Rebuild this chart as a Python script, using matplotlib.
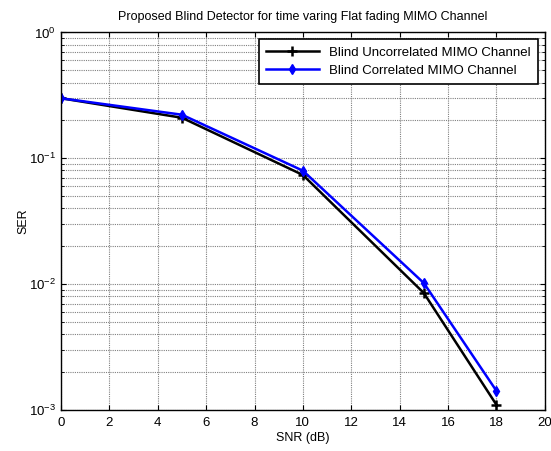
import matplotlib.pyplot as plt
from matplotlib.ticker import LogLocator, NullFormatter

plt.rcParams['font.family'] = ['Liberation Sans', 'DejaVu Sans']

# data
snr_db = [0, 5, 10, 15, 18]
ser_uncorrelated = [0.30, 0.21, 0.0737, 0.0085, 0.00110]
ser_correlated = [0.30, 0.222, 0.0797, 0.0102, 0.00142]

fig = plt.figure(figsize=(5.51, 4.51), dpi=100)
ax = fig.add_axes([0.1107, 0.091, 0.878, 0.837])

ax.semilogy(snr_db, ser_uncorrelated, color='black', linewidth=1.8, marker='+',
            markersize=7, markeredgewidth=1.8, label='Blind Uncorrelated MIMO Channel')
ax.semilogy(snr_db, ser_correlated, color='blue', linewidth=1.8, marker='d',
            markersize=5, label='Blind Correlated MIMO Channel')

ax.set_xlim(0, 20)
ax.set_ylim(1e-3, 1)
ax.set_xticks(range(0, 21, 2))
ax.yaxis.set_major_locator(LogLocator(base=10, numticks=10))
ax.yaxis.set_minor_locator(LogLocator(base=10, subs=range(2, 10), numticks=10))
ax.yaxis.set_minor_formatter(NullFormatter())

ax.grid(True, which='major', color='0.5', linestyle=(0, (1, 1)), linewidth=0.8)
ax.grid(True, which='minor', axis='y', color='0.5', linestyle=(0, (1, 1)), linewidth=0.8)
ax.tick_params(which='both', direction='in', top=True, right=True, labelsize=9.5)
ax.tick_params(axis='x', pad=5)
for s in ax.spines.values():
    s.set_linewidth(1)

ax.set_title('Proposed Blind Detector for time varing Flat fading MIMO Channel',
             fontsize=9, pad=9)
ax.set_xlabel('SNR (dB)', fontsize=9, labelpad=2)
ax.set_ylabel('SER', fontsize=9, labelpad=0)

leg = ax.legend(loc='upper right', fontsize=9.5, fancybox=False, framealpha=1,
                edgecolor='black', borderaxespad=0.5, handlelength=4,
                borderpad=0.55, labelspacing=0.45)
leg.get_frame().set_linewidth(1.2)

plt.savefig('out.png', dpi=100)
